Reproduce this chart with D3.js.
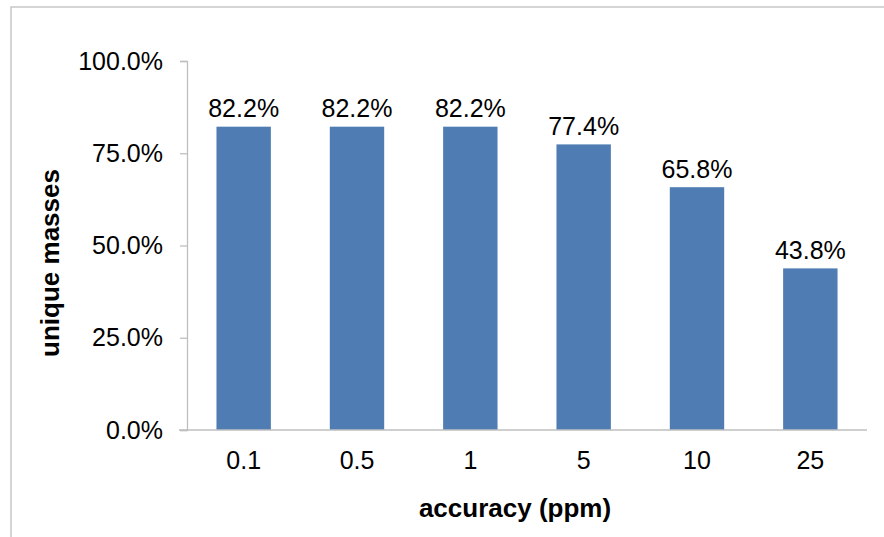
<!DOCTYPE html>
<html>
<head>
<meta charset="utf-8">
<script src="https://cdn.jsdelivr.net/npm/d3@7"></script>
<style>
  html, body { margin: 0; padding: 0; background: #fff; }
  svg { display: block; }
  text { font-family: Arial, "Liberation Sans", Helvetica, sans-serif; fill: #000; }
</style>
</head>
<body>
<svg id="chart" width="884" height="537"></svg>
<script>
// Share of unique masses at each mass accuracy window
const categories = ["0.1", "0.5", "1", "5", "10", "25"];
const values = [82.2, 82.2, 82.2, 77.4, 65.8, 43.8];
const yTicks = [0, 25, 50, 75, 100];
const xTitle = "accuracy (ppm)";
const yTitle = "unique masses";

const svg = d3.select("#chart");
const W = 884, H = 537;
const plot = { left: 187, right: 867, top: 61, bottom: 430 };
const axisColor = "#BFBFBF";
const barColor = "#4F7DB3";

// chart area frame (open to the right and bottom)
svg.append("rect")
  .attr("x", 11).attr("y", 7)
  .attr("width", W + 20).attr("height", H + 20)
  .attr("fill", "#fff")
  .attr("stroke", "#C8C8C8")
  .attr("stroke-width", 1.5);

const x = d3.scaleBand()
  .domain(categories)
  .range([plot.left, plot.right])
  .paddingInner(0.52)
  .paddingOuter(0.26);

const y = d3.scaleLinear()
  .domain([0, 100])
  .range([plot.bottom, plot.top]);

// y axis
const yAxis = svg.append("g")
  .attr("transform", `translate(${plot.left},0)`)
  .call(d3.axisLeft(y).tickValues(yTicks).tickSize(7).tickPadding(17)
    .tickFormat(d => d.toFixed(1) + "%"));
yAxis.select(".domain").attr("stroke", axisColor).attr("stroke-width", 1.3);
yAxis.selectAll(".tick line").attr("stroke", axisColor).attr("stroke-width", 1.3);
yAxis.selectAll(".tick text")
  .attr("font-size", 25)
  .attr("font-family", "Arial, 'Liberation Sans', sans-serif")
  .attr("fill", "#000");

// bars
svg.append("g").selectAll("rect")
  .data(values)
  .join("rect")
  .attr("x", (d, i) => x(categories[i]))
  .attr("y", d => y(d))
  .attr("width", x.bandwidth())
  .attr("height", d => y(0) - y(d))
  .attr("fill", barColor);

// x axis
const xAxis = svg.append("g")
  .attr("transform", `translate(0,${plot.bottom})`)
  .call(d3.axisBottom(x).tickSize(0).tickPadding(21));
xAxis.select(".domain")
  .attr("d", `M${plot.left - 8},0H${plot.right}`)
  .attr("stroke", axisColor).attr("stroke-width", 1.3);
xAxis.selectAll(".tick text")
  .attr("font-size", 25)
  .attr("font-family", "Arial, 'Liberation Sans', sans-serif")
  .attr("fill", "#000");

// value labels
svg.append("g").selectAll("text")
  .data(values)
  .join("text")
  .attr("x", (d, i) => x(categories[i]) + x.bandwidth() / 2)
  .attr("y", d => y(d) - 9.5)
  .attr("text-anchor", "middle")
  .attr("font-size", 25)
  .text(d => d.toFixed(1) + "%");

// axis titles
svg.append("text")
  .attr("x", 515).attr("y", 516.5)
  .attr("text-anchor", "middle")
  .attr("font-size", 26)
  .attr("font-weight", "bold")
  .text(xTitle);

svg.append("text")
  .attr("transform", "translate(59,263) rotate(-90)")
  .attr("text-anchor", "middle")
  .attr("font-size", 26)
  .attr("font-weight", "bold")
  .text(yTitle);
</script>
</body>
</html>
